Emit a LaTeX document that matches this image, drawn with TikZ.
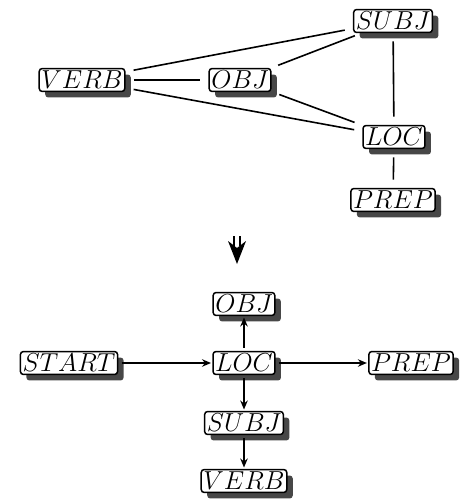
\RequirePackage{fix-cm}
\documentclass[tikz,border=0pt]{standalone}
\usetikzlibrary{shadows,arrows.meta}

\tikzset{
  term/.style={draw, rounded corners=3pt, line width=1.5pt, fill=white,
    inner xsep=2.2pt, inner ysep=2.6pt, outer sep=0pt,
    font=\fontsize{26}{30}\selectfont,
    drop shadow={shadow xshift=6pt, shadow yshift=-6pt, fill=black!72, opacity=1}},
  link/.style={line width=1.6pt, shorten <=9pt, shorten >=9pt},
  flow/.style={line width=1.5pt, -{Stealth[length=9pt,width=7.5pt,inset=3pt]},
    shorten <=4pt, shorten >=2pt},
}

\begin{document}
\begin{tikzpicture}[x=1pt,y=-1pt]
  \useasboundingbox (0,0) rectangle (465,500);

  % upper graph: undirected dependencies
  \node[term] (subj) at (393,21)  {$SUBJ$};
  \node[term] (verb) at (82,80)   {$VERB$};
  \node[term] (obj)  at (240,80)  {$OBJ$};
  \node[term] (loc)  at (394,137) {$LOC$};
  \node[term] (prep) at (393,200) {$PREP$};

  \draw[link] (verb) -- (subj);
  \draw[link] (verb) -- (obj);
  \draw[link] (verb) -- (loc);
  \draw[link] (obj)  -- (subj);
  \draw[link] (obj)  -- (loc);
  \draw[link] (subj) -- (loc);
  \draw[link] (loc)  -- (prep);

  % transition arrow between the two graphs
  \coordinate (ta) at (237,236);
  \coordinate (tb) at (237,264);
  \draw[line width=1.3pt] ([xshift=-3pt]ta) -- ++(0,10);
  \draw[line width=1.3pt] ([xshift=3pt]ta) -- ++(0,10);
  \fill (tb) -- ++(-9,-23) -- ++(9,7) -- ++(9,-7) -- cycle;

  % lower graph: directed tree rooted at START
  \node[term] (bobj)   at (244,304) {$OBJ$};
  \node[term] (start)  at (69,363)  {$START$};
  \node[term] (bloc)   at (244,363) {$LOC$};
  \node[term] (bprep)  at (411,363) {$PREP$};
  \node[term] (bsubj)  at (244,423) {$SUBJ$};
  \node[term] (bverb)  at (244,481) {$VERB$};

  \draw[flow] (start) -- (bloc);
  \draw[flow] (bloc)  -- (bobj);
  \draw[flow] (bloc)  -- (bprep);
  \draw[flow] (bloc)  -- (bsubj);
  \draw[flow] (bsubj) -- (bverb);
\end{tikzpicture}
\end{document}
